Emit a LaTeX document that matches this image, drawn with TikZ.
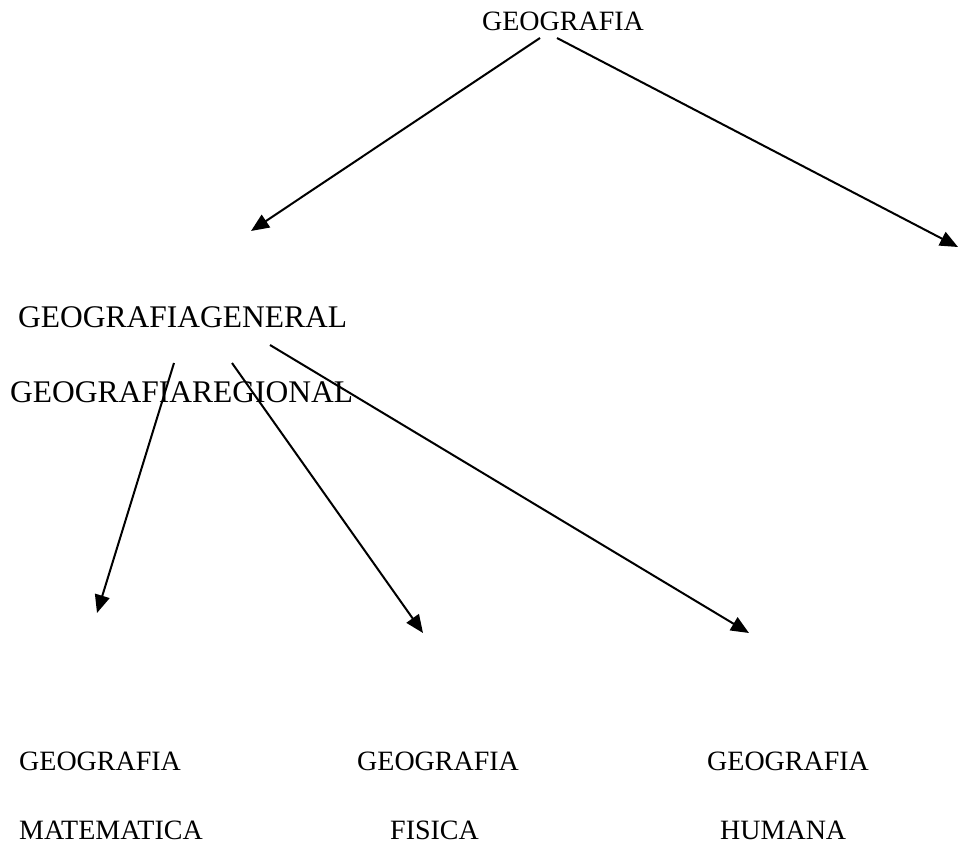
\documentclass[tikz,border=0pt]{standalone}
\usepackage{fontspec}
\setmainfont{Liberation Serif}
\usetikzlibrary{arrows.meta}
\begin{document}
\begin{tikzpicture}[x=1pt,y=-1pt,
  lbl/.style={inner sep=0pt,anchor=base west,font=\fontsize{28}{30}\selectfont},
  big/.style={lbl,font=\fontsize{31.5}{34}\selectfont},
  arr/.style={line width=2pt,-{Triangle[length=18pt,width=15pt]}}]
\useasboundingbox (0,0) rectangle (958,847);
\node[lbl,anchor=base] (top) at (563,30) {GEOGRAFIA};
\node[big] (gen) at (18,327) {GEOGRAFIAGENERAL};
\node[big] (reg) at (10,402) {GEOGRAFIAREGIONAL};
\node[lbl] (g1) at (19,770) {GEOGRAFIA};
\node[lbl] (g2) at (357,770) {GEOGRAFIA};
\node[lbl] (g3) at (707,770) {GEOGRAFIA};
\node[lbl] (mat) at (19,839) {MATEMATICA};
\node[lbl] (fis) at (390,839) {FISICA};
\node[lbl] (hum) at (720,839) {HUMANA};
\coordinate (s1) at (540,38);
\coordinate (e1) at (251,231);
\coordinate (s2) at (557,38);
\coordinate (e2) at (958,247);
\coordinate (s3) at (174,363);
\coordinate (e3) at (97,613);
\coordinate (s4) at (232,363);
\coordinate (e4) at (423,633);
\coordinate (s5) at (270,345);
\coordinate (e5) at (749,633);
\draw[arr] (s1) -- (e1);
\draw[arr] (s2) -- (e2);
\draw[arr] (s3) -- (e3);
\draw[arr] (s4) -- (e4);
\draw[arr] (s5) -- (e5);
\end{tikzpicture}
\end{document}
